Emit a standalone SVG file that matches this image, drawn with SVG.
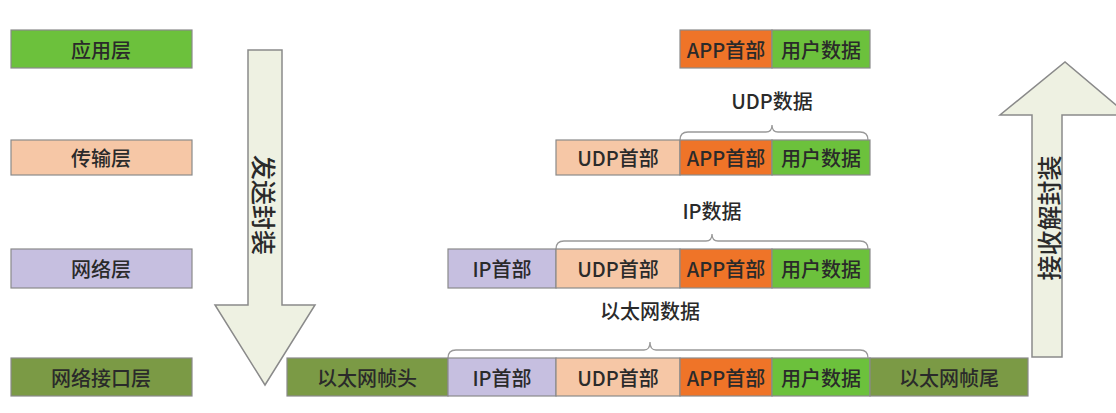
<svg xmlns="http://www.w3.org/2000/svg" width="1116" height="413" viewBox="0 0 1116 413">
<style>
text{font-family:"Noto Sans CJK SC","Liberation Sans",sans-serif;font-size:20px;font-weight:500;fill:#2a2a2a;text-anchor:middle;dominant-baseline:central}
.v{font-size:25px}
.b{stroke:#8a8a8a;stroke-width:1.2}
.g{fill:#6cc13c}.o{fill:#ef7428}.p{fill:#f6c7a6}.l{fill:#c6bfe0}.d{fill:#7b9a45}
.ar{fill:#eef1e2;stroke:#8a8a8a;stroke-width:1.5}
.br{fill:none;stroke:#999;stroke-width:1.3}
</style>
<rect width="1116" height="413" fill="#fff"/>
<g id="layer-app"><rect class="b g" x="11" y="30" width="181" height="38"/><text x="101" y="49">应用层</text></g>
<g id="layer-transport"><rect class="b p" x="11" y="140" width="181" height="35"/><text x="101" y="157">传输层</text></g>
<g id="layer-network"><rect class="b l" x="11" y="249" width="181" height="39"/><text x="101" y="268">网络层</text></g>
<g id="layer-link"><rect class="b d" x="11" y="358" width="181" height="38"/><text x="101" y="377">网络接口层</text></g>
<g id="arrow-send"><path class="ar" d="M248 50H282V305H315L265 385L215 305H248Z"/><text class="v" x="265" y="205" transform="rotate(90 265 205)">发送封装</text></g>
<g id="arrow-recv"><path class="ar" d="M1032 357V115H1000L1065 62L1128 115H1062V357Z"/><text class="v" x="1048" y="218" transform="rotate(-90 1048 218)">接收解封装</text></g>
<g id="row1"><rect class="b o" x="680" y="30" width="92" height="38"/><text x="726" y="49">APP首部</text><rect class="b g" x="772" y="30" width="98" height="38"/><text x="821" y="49">用户数据</text></g>
<g id="row2"><rect class="b p" x="556" y="140" width="124" height="35"/><text x="618" y="157">UDP首部</text><rect class="b o" x="680" y="140" width="92" height="35"/><text x="726" y="157">APP首部</text><rect class="b g" x="772" y="140" width="98" height="35"/><text x="821" y="157">用户数据</text></g>
<g id="row3"><rect class="b l" x="448" y="249" width="108" height="39"/><text x="502" y="268">IP首部</text><rect class="b p" x="556" y="249" width="124" height="39"/><text x="618" y="268">UDP首部</text><rect class="b o" x="680" y="249" width="92" height="39"/><text x="726" y="268">APP首部</text><rect class="b g" x="772" y="249" width="98" height="39"/><text x="821" y="268">用户数据</text></g>
<g id="row4"><rect class="b d" x="287" y="358" width="161" height="38"/><text x="367" y="377">以太网帧头</text><rect class="b l" x="448" y="358" width="108" height="38"/><text x="502" y="377">IP首部</text><rect class="b p" x="556" y="358" width="124" height="38"/><text x="618" y="377">UDP首部</text><rect class="b o" x="680" y="358" width="92" height="38"/><text x="726" y="377">APP首部</text><rect class="b g" x="772" y="358" width="98" height="38"/><text x="821" y="377">用户数据</text><rect class="b d" x="870" y="358" width="158" height="38"/><text x="949" y="377">以太网帧尾</text></g>
<g id="connectors">
<path class="br" d="M680 140Q680 132 688 132H766Q772 132 772 125Q772 132 778 132H860Q868 132 868 140"/>
<path class="br" d="M556 249Q556 241 564 241H706Q712 241 712 234Q712 241 718 241H860Q868 241 868 249"/>
<path class="br" d="M448 358Q448 350 456 350H644Q650 350 650 342Q650 350 656 350H860Q868 350 868 358"/>
</g>
<g id="labels"><text x="772" y="100">UDP数据</text><text x="712" y="210">IP数据</text><text x="650" y="310">以太网数据</text></g>
</svg>
